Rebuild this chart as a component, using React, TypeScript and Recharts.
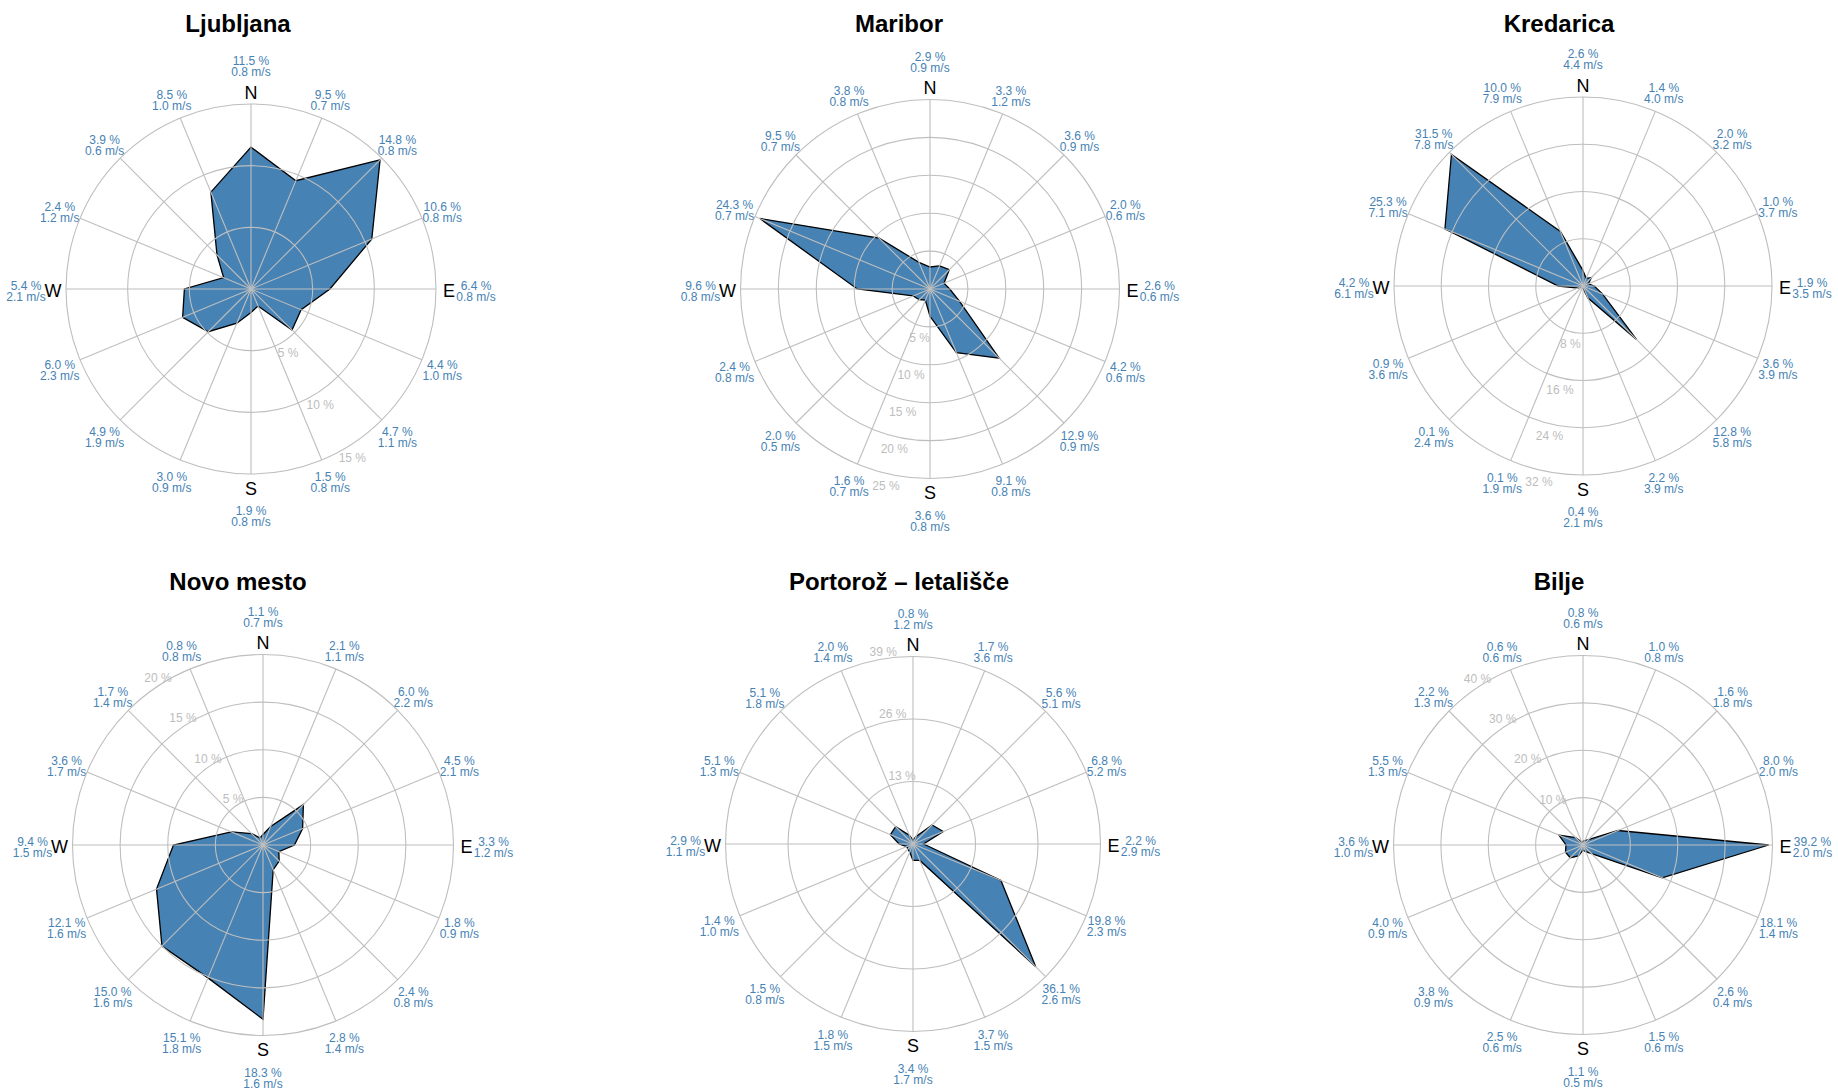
import React from 'react';
import { RadarChart, Radar, PolarGrid, PolarAngleAxis, PolarRadiusAxis } from 'recharts';

// ---------- data ----------
const directions = ['N', 'NNE', 'NE', 'ENE', 'E', 'ESE', 'SE', 'SSE', 'S', 'SSW', 'SW', 'WSW', 'W', 'WNW', 'NW', 'NNW'];

const stationNames = ['Ljubljana', 'Maribor', 'Kredarica', 'Novo mesto', 'Portorož – letališče', 'Bilje'];

const ljubljanaPct = [11.5, 9.5, 14.8, 10.6, 6.4, 4.4, 4.7, 1.5, 1.9, 3.0, 4.9, 6.0, 5.4, 2.4, 3.9, 8.5];
const ljubljanaSpeed = [0.8, 0.7, 0.8, 0.8, 0.8, 1.0, 1.1, 0.8, 0.8, 0.9, 1.9, 2.3, 2.1, 1.2, 0.6, 1.0];

const mariborPct = [2.9, 3.3, 3.6, 2.0, 2.6, 4.2, 12.9, 9.1, 3.6, 1.6, 2.0, 2.4, 9.6, 24.3, 9.5, 3.8];
const mariborSpeed = [0.9, 1.2, 0.9, 0.6, 0.6, 0.6, 0.9, 0.8, 0.8, 0.7, 0.5, 0.8, 0.8, 0.7, 0.7, 0.8];

const kredaricaPct = [2.6, 1.4, 2.0, 1.0, 1.9, 3.6, 12.8, 2.2, 0.4, 0.1, 0.1, 0.9, 4.2, 25.3, 31.5, 10.0];
const kredaricaSpeed = [4.4, 4.0, 3.2, 3.7, 3.5, 3.9, 5.8, 3.9, 2.1, 1.9, 2.4, 3.6, 6.1, 7.1, 7.8, 7.9];

const novoMestoPct = [1.1, 2.1, 6.0, 4.5, 3.3, 1.8, 2.4, 2.8, 18.3, 15.1, 15.0, 12.1, 9.4, 3.6, 1.7, 0.8];
const novoMestoSpeed = [0.7, 1.1, 2.2, 2.1, 1.2, 0.9, 0.8, 1.4, 1.6, 1.8, 1.6, 1.6, 1.5, 1.7, 1.4, 0.8];

const portorozPct = [0.8, 1.7, 5.6, 6.8, 2.2, 19.8, 36.1, 3.7, 3.4, 1.8, 1.5, 1.4, 2.9, 5.1, 5.1, 2.0];
const portorozSpeed = [1.2, 3.6, 5.1, 5.2, 2.9, 2.3, 2.6, 1.5, 1.7, 1.5, 0.8, 1.0, 1.1, 1.3, 1.8, 1.4];

const biljePct = [0.8, 1.0, 1.6, 8.0, 39.2, 18.1, 2.6, 1.5, 1.1, 2.5, 3.8, 4.0, 3.6, 5.5, 2.2, 0.6];
const biljeSpeed = [0.6, 0.8, 1.8, 2.0, 2.0, 1.4, 0.4, 0.6, 0.5, 0.6, 0.9, 0.9, 1.0, 1.3, 1.3, 0.6];

const ljubljanaRings = [5, 10, 15];
const mariborRings = [5, 10, 15, 20, 25];
const kredaricaRings = [8, 16, 24, 32];
const novoMestoRings = [5, 10, 15, 20];
const portorozRings = [13, 26, 39];
const biljeRings = [10, 20, 30, 40];

const allPct = [ljubljanaPct, mariborPct, kredaricaPct, novoMestoPct, portorozPct, biljePct];
const allSpeed = [ljubljanaSpeed, mariborSpeed, kredaricaSpeed, novoMestoSpeed, portorozSpeed, biljeSpeed];
const allRings = [ljubljanaRings, mariborRings, kredaricaRings, novoMestoRings, portorozRings, biljeRings];

// ---------- layout ----------
const PANEL_W = 614;
const PANEL_H = 545;
const layouts = [
  { left: 0, top: 0, cx: 251, cy: 289, r: 185, titleX: 238, titleY: 31.5, ringBearing: 148.6 },
  { left: 612, top: 0, cx: 318, cy: 289, r: 189.5, titleX: 899, titleY: 31.5, ringBearing: 192.8 },
  { left: 1224, top: 0, cx: 359, cy: 286, r: 189, titleX: 1559, titleY: 31.5, ringBearing: 192.8 },
  { left: 0, top: 545, cx: 263, cy: 300, r: 190.5, titleX: 238, titleY: 589.5, ringBearing: 328.3 },
  { left: 612, top: 545, cx: 301, cy: 299, r: 187.5, titleX: 899, titleY: 589.5, ringBearing: 351.3 },
  { left: 1224, top: 545, cx: 359, cy: 300, r: 189.5, titleX: 1559, titleY: 589.5, ringBearing: 328 },
];

const RAD = Math.PI / 180;
const FONT = '"Liberation Sans", Arial, Helvetica, sans-serif';
const BLUE = '#4682b4';
const GRID = '#bebebe';

function makeAngleTick(si: number) {
  const lay = layouts[si];
  const pct = allPct[si];
  const spd = allSpeed[si];
  return (props: any) => {
    const value = props.payload?.value;
    let idx = directions.indexOf(value);
    if (idx < 0 && typeof props.index === 'number') idx = props.index;
    const ang = typeof props.payload?.coordinate === 'number' ? props.payload.coordinate : 90 - idx * 22.5;
    const ux = Math.cos(ang * RAD);
    const uy = -Math.sin(ang * RAD);
    const cardinal = idx % 4 === 0;
    const rl = lay.r + (cardinal ? 40 : 22);
    const px = lay.cx + rl * ux;
    const py = lay.cy + rl * uy;
    const rc = lay.r + 13;
    const lx = lay.cx + rc * ux;
    const ly = lay.cy + rc * uy;
    return (
      <g>
        <text x={px} y={py + 1} textAnchor="middle" fontSize={12} fill={BLUE} fontFamily={FONT}>
          {pct[idx].toFixed(1) + ' %'}
        </text>
        <text x={px} y={py + 12} textAnchor="middle" fontSize={12} fill={BLUE} fontFamily={FONT}>
          {spd[idx].toFixed(1) + ' m/s'}
        </text>
        {cardinal ? (
          <text x={lx} y={ly + 7.5} textAnchor="middle" fontSize={18} fill="#000" fontFamily={FONT}>
            {value}
          </text>
        ) : null}
      </g>
    );
  };
}

function makeRadiusTick(si: number) {
  const b = layouts[si].ringBearing * RAD;
  return (props: any) => {
    const x = props.x + 9.5 * Math.sin(b);
    const y = props.y - 9.5 * Math.cos(b) + 6.8;
    return (
      <text x={x} y={y} textAnchor="middle" fontSize={12} fill="#bdbdbd" fontFamily={FONT}>
        {props.payload?.value + ' %'}
      </text>
    );
  };
}

function StationRose({ si }: { si: number }) {
  const lay = layouts[si];
  const rings = allRings[si];
  const data = directions.map((d, i) => ({ dir: d, pct: allPct[si][i] }));
  const maxV = rings[rings.length - 1];
  const common = {
    width: PANEL_W,
    height: PANEL_H,
    data,
    cx: lay.cx,
    cy: lay.cy,
    outerRadius: lay.r,
    startAngle: 90,
    endAngle: -270,
    margin: { top: 0, right: 0, bottom: 0, left: 0 },
  };
  return (
    <div style={{ position: 'absolute', left: lay.left, top: lay.top, width: PANEL_W, height: PANEL_H }}>
      {/* base layer: filled rose with labels */}
      <div style={{ position: 'absolute', left: 0, top: 0 }}>
        <RadarChart {...common}>
          <Radar
            dataKey="pct"
            fill={BLUE}
            fillOpacity={1}
            stroke="#000"
            strokeWidth={1.3}
            dot={false}
            isAnimationActive={false}
          />
          <PolarAngleAxis dataKey="dir" axisLine={false} tickLine={false} tick={makeAngleTick(si)} />
          <PolarRadiusAxis
            type="number"
            angle={90 - lay.ringBearing}
            domain={[0, maxV]}
            ticks={rings}
            axisLine={false}
            tickLine={false}
            tick={makeRadiusTick(si)}
          />
        </RadarChart>
      </div>
      {/* overlay layer: grid drawn on top of the rose */}
      <div style={{ position: 'absolute', left: 0, top: 0, pointerEvents: 'none' }}>
        <RadarChart {...common}>
          <PolarGrid gridType="circle" stroke={GRID} strokeWidth={1.1} />
          <Radar
            dataKey="pct"
            fill="none"
            fillOpacity={0}
            stroke="none"
            dot={false}
            isAnimationActive={false}
          />
          <PolarAngleAxis dataKey="dir" axisLine={false} tickLine={false} tick={false} />
          <PolarRadiusAxis
            type="number"
            angle={90 - lay.ringBearing}
            domain={[0, maxV]}
            ticks={rings}
            axisLine={false}
            tickLine={false}
            tick={false}
          />
        </RadarChart>
      </div>
    </div>
  );
}

export default function App() {
  return (
    <div
      style={{
        position: 'absolute',
        left: 0,
        top: 0,
        width: 1838,
        height: 1090,
        background: '#ffffff',
        fontFamily: FONT,
        overflow: 'hidden',
      }}
    >
      {stationNames.map((_, si) => (
        <StationRose key={si} si={si} />
      ))}
      <svg
        width={1838}
        height={1090}
        style={{ position: 'absolute', left: 0, top: 0, pointerEvents: 'none' }}
      >
        {stationNames.map((name, si) => (
          <text
            key={name}
            x={layouts[si].titleX}
            y={layouts[si].titleY}
            textAnchor="middle"
            fontSize={24}
            fontWeight="bold"
            fill="#000"
            fontFamily={FONT}
          >
            {name}
          </text>
        ))}
      </svg>
    </div>
  );
}
